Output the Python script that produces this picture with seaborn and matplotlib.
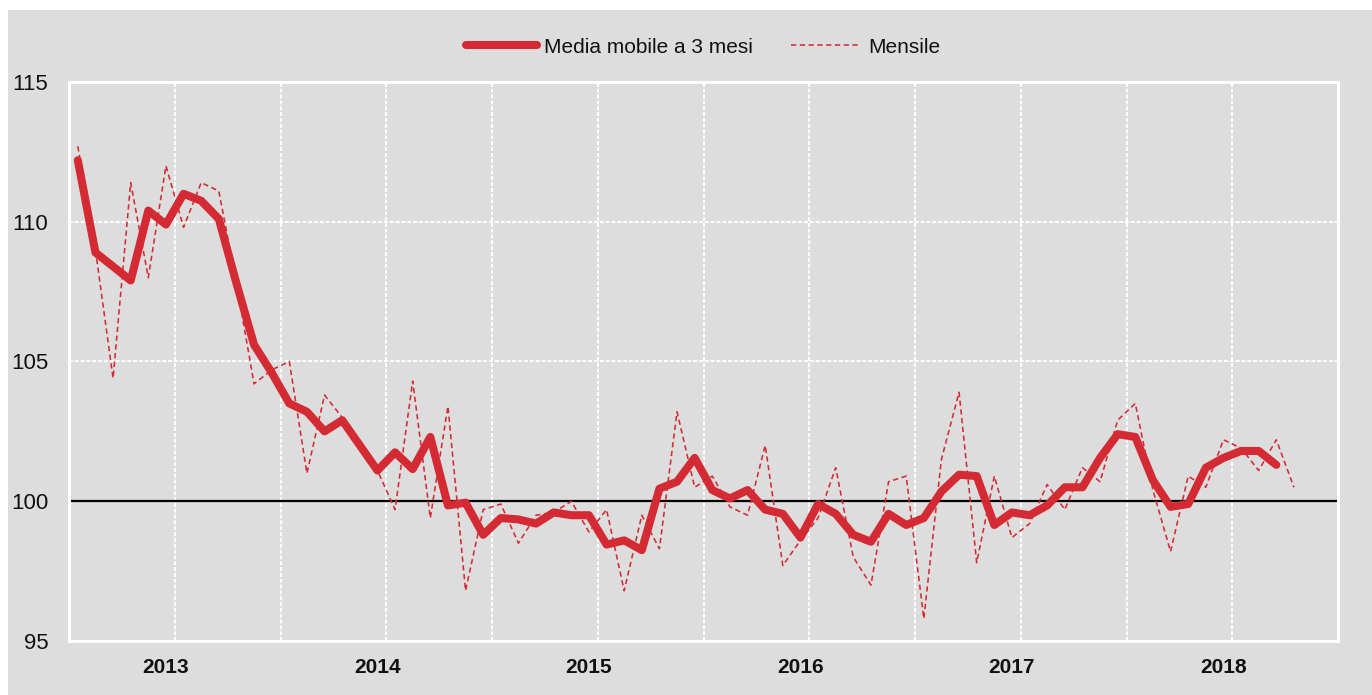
import matplotlib
matplotlib.use("Agg")
import matplotlib.pyplot as plt
from matplotlib.patches import Rectangle
import seaborn as sns
import pandas as pd
import numpy as np

# ---- data ----
years = ["2013", "2014", "2015", "2016", "2017", "2018"]
mensile = [112.7, 109.0, 104.4, 111.4, 108.0, 112.0, 109.8, 111.4, 111.1, 107.8,
           104.2, 104.7, 105.0, 101.0, 103.8, 103.0, 102.0, 101.1, 99.7, 104.3,
           99.4, 103.4, 96.8, 99.7, 99.9, 98.5, 99.5, 99.6, 100.0, 98.9,
           99.7, 96.8, 99.5, 98.3, 103.2, 100.5, 100.9, 99.8, 99.5, 102.0,
           97.7, 98.6, 99.4, 101.2, 98.0, 97.0, 100.7, 100.9, 95.8, 101.5,
           103.9, 97.8, 100.9, 98.7, 99.2, 100.6, 99.7, 101.2, 100.7, 102.9,
           103.5, 100.4, 98.2, 100.9, 100.5, 102.2, 101.9, 101.1, 102.2, 100.5]
media_mobile = [112.2, 108.9, 108.4, 107.9, 110.4, 109.9, 111.0, 110.75, 110.1, 107.8,
                105.6, 104.6, 103.5, 103.2, 102.5, 102.9, 102.0, 101.1, 101.75, 101.15,
                102.3, 99.85, 99.95, 98.8, 99.4, 99.35, 99.2, 99.6, 99.5, 99.5,
                98.45, 98.6, 98.25, 100.45, 100.7, 101.55, 100.4, 100.1, 100.4, 99.7,
                99.55, 98.7, 99.9, 99.55, 98.8, 98.55, 99.55, 99.15, 99.4, 100.35,
                100.95, 100.9, 99.15, 99.6, 99.5, 99.85, 100.5, 100.5, 101.55, 102.4,
                102.3, 100.75, 99.8, 99.9, 101.2, 101.55, 101.8, 101.8, 101.3]
y_ticks = [95, 100, 105, 110, 115]

n_months = 12 * len(years)
df_m = pd.DataFrame({"mese": np.arange(len(mensile)), "valore": mensile})
df_a = pd.DataFrame({"mese": np.arange(len(media_mobile)), "valore": media_mobile})

GRAY = "#DDDDDD"
RED = "#D42A34"

sns.set_theme(style="white")
plt.rcParams["font.family"] = ["Liberation Sans", "DejaVu Sans"]

fig = plt.figure(figsize=(13.72, 6.95), dpi=100, facecolor="white")
fig.patches.append(Rectangle((8 / 1372, 0), 1 - 8 / 1372, 1 - 10 / 695,
                             transform=fig.transFigure, facecolor=GRAY,
                             edgecolor="none", zorder=-10))
ax = fig.add_axes([69 / 1372, 1 - 641 / 695, (1338 - 69) / 1372, (641 - 82) / 695])
ax.set_facecolor(GRAY)

sns.lineplot(data=df_a, x="mese", y="valore", ax=ax, color=RED, linewidth=5.8,
             solid_capstyle="round", solid_joinstyle="round",
             label="Media mobile a 3 mesi", zorder=3)
sns.lineplot(data=df_m, x="mese", y="valore", ax=ax, color=RED, linewidth=1.15,
             linestyle=(0, (3.3, 2.2)), label="Mensile", zorder=4)

ax.axhline(100, color="black", linewidth=1.6, zorder=2)

ax.set_xlim(-0.5, n_months - 0.5)
ax.set_ylim(95, 115)
ax.set_yticks(y_ticks)
ax.set_yticklabels([str(v) for v in y_ticks], fontsize=16, color="#111111")
ax.set_xticks([5 + 12 * k for k in range(len(years))])
ax.set_xticklabels(years, fontsize=15, fontweight="bold", color="#111111")
ax.set_xticks([5.5 + 6 * k for k in range(11)], minor=True)
ax.tick_params(axis="both", which="both", length=0)
ax.tick_params(axis="y", pad=15)
ax.tick_params(axis="x", pad=12)
ax.set_xlabel("")
ax.set_ylabel("")

ax.grid(False)
ax.grid(True, which="minor", axis="x", color="white", linestyle=(0, (2, 1)), linewidth=1.4, zorder=1)
ax.grid(True, which="major", axis="y", color="white", linestyle=(0, (2, 1)), linewidth=1.4, zorder=1)
ax.set_axisbelow(True)

for s in ax.spines.values():
    s.set_color("white")
    s.set_linewidth(2.2)
    s.set_visible(True)

leg = ax.legend(loc="center", bbox_to_anchor=(0.5, 1.0626), ncol=2, frameon=False,
                fontsize=15, handlelength=3.4, handletextpad=0.35, columnspacing=1.8)
for t in leg.get_texts():
    t.set_color("#111111")

fig.savefig("out.png", dpi=100, facecolor=fig.get_facecolor())
